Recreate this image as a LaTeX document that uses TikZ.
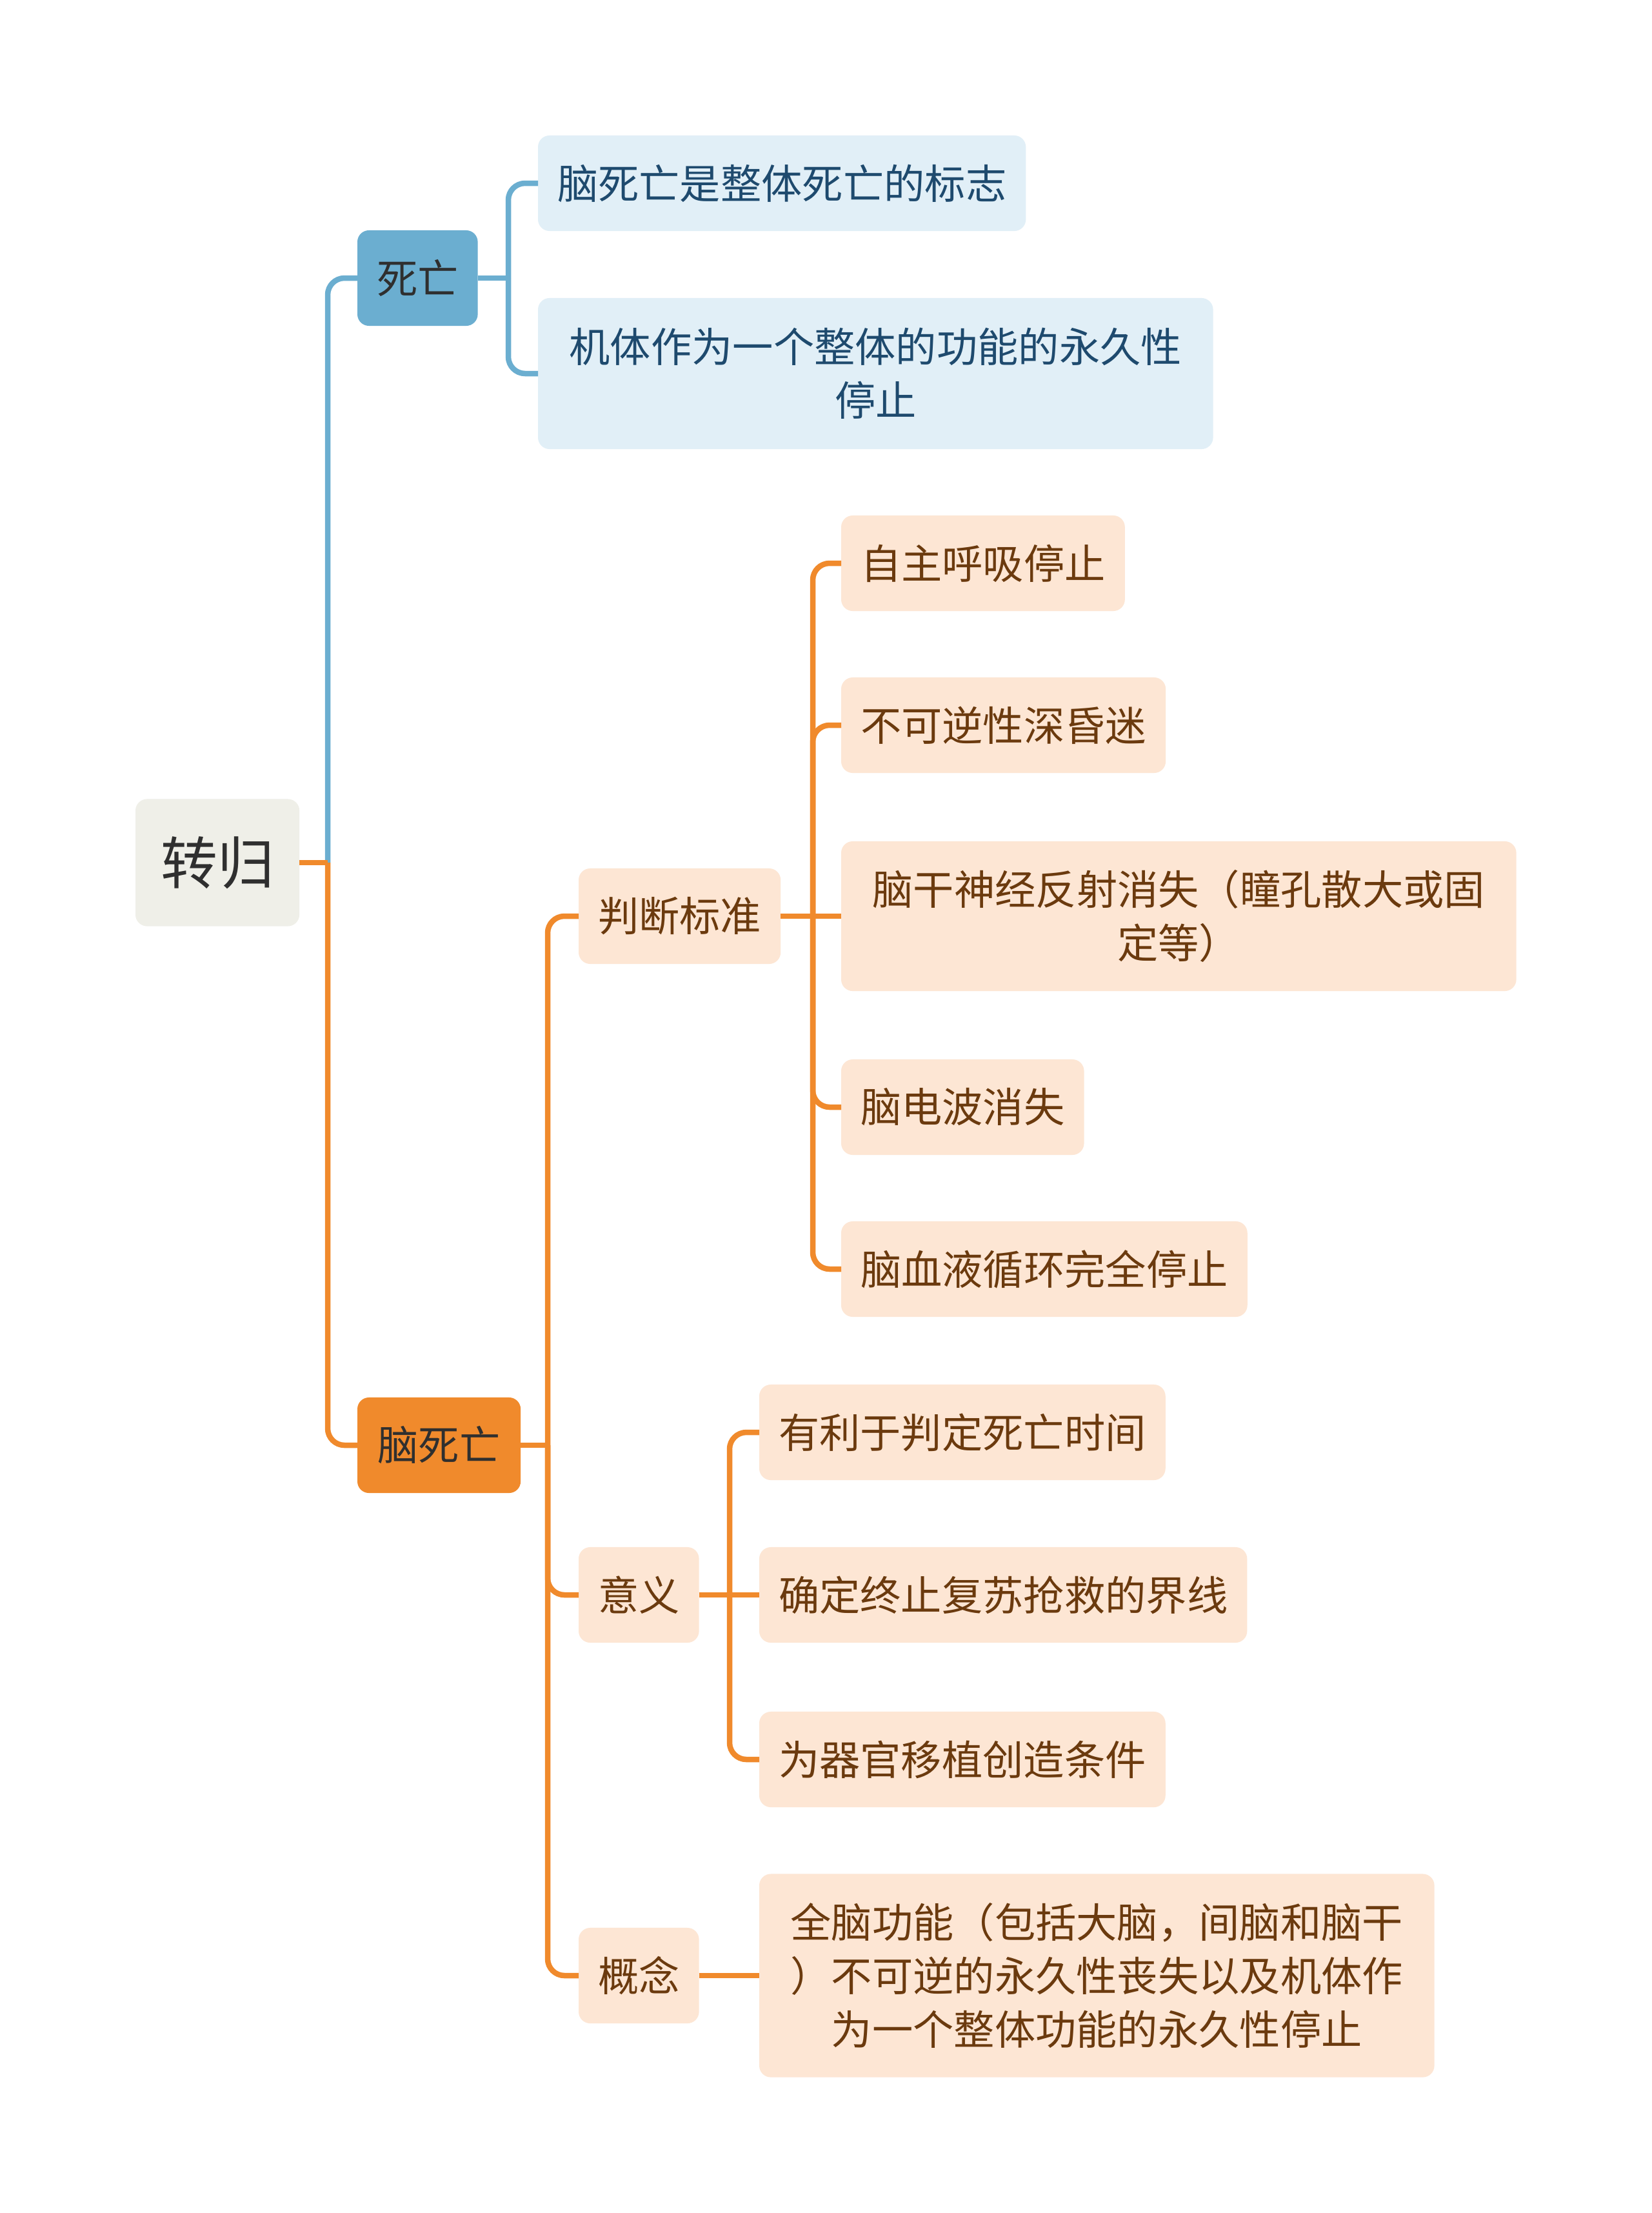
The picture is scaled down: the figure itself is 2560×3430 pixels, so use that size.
\documentclass[tikz,border=0pt]{standalone}
\usepackage{fontspec}
\setmainfont{Noto Sans CJK SC}
\usetikzlibrary{positioning}

\definecolor{rootfill}{HTML}{EFEFE8}
\definecolor{darktxt}{HTML}{2F2F2F}
\definecolor{blueline}{HTML}{6BAED0}
\definecolor{bluelight}{HTML}{E1EFF7}
\definecolor{bluetxt}{HTML}{1E4A6E}
\definecolor{orangeline}{HTML}{F08A2C}
\definecolor{orangelight}{HTML}{FDE6D4}
\definecolor{browntxt}{HTML}{6B3A0E}

\begin{document}
\begin{tikzpicture}[
  x=0.01cm, y=-0.01cm,
  mod/.style={rounded corners=0.18cm, anchor=west, align=center, inner xsep=0.3cm,
              inner ysep=0pt, outer sep=0pt, minimum height=1.48cm,
              font=\fontsize{18pt}{23.6pt}\selectfont},
  rootbox/.style={mod, fill=rootfill, text=darktxt, minimum width=2.54cm,
                  minimum height=1.97cm, font=\fontsize{25pt}{30pt}\selectfont},
  bmain/.style={mod, fill=blueline, text=darktxt},
  bsub/.style={mod, fill=bluelight, text=bluetxt},
  omain/.style={mod, fill=orangeline, text=darktxt},
  osub/.style={mod, fill=orangelight, text=browntxt},
  wide/.style={minimum width=10.46cm},
  bl/.style={draw=blueline, line width=0.085cm, rounded corners=0.26cm},
  ol/.style={bl, draw=orangeline},
]
  \useasboundingbox (0,0) rectangle (2560,3430);
  \fill[white] (0,0) rectangle (2560,3430);

  % root and its two branches
  \node[rootbox] (zg) at (210,1337) {转归};
  \node[bmain] (sw) at (554,431) {死亡};
  \node[omain, minimum width=2.53cm] (nsw) at (554,2240) {脑死亡};
  \coordinate (zgb) at (508,1337);

  % death
  \node[bsub] (sw1) at (834,284) {脑死亡是整体死亡的标志};
  \node[bsub, wide, minimum height=2.34cm] (sw2) at (834,579)
    {机体作为一个整体的功能的永久性\\停止};
  \coordinate (swb) at (788,431);

  % brain death
  \node[osub] (pd) at (897,1420) {判断标准};
  \node[osub] (yy) at (897,2472) {意义};
  \node[osub] (gn) at (897,3062) {概念};
  \coordinate (nswb) at (849,2240);

  % criteria
  \node[osub] (pd1) at (1304,873) {自主呼吸停止};
  \node[osub] (pd2) at (1304,1124) {不可逆性深昏迷};
  \node[osub, wide, minimum height=2.32cm] (pd3) at (1304,1420)
    {脑干神经反射消失（瞳孔散大或固\\定等）};
  \node[osub] (pd4) at (1304,1716) {脑电波消失};
  \node[osub] (pd5) at (1304,1967) {脑血液循环完全停止};
  \coordinate (pdb) at (1260,1420);

  % meaning
  \node[osub] (yy1) at (1177,2220) {有利于判定死亡时间};
  \node[osub] (yy2) at (1177,2472) {确定终止复苏抢救的界线};
  \node[osub] (yy3) at (1177,2727) {为器官移植创造条件};
  \coordinate (yyb) at (1131,2472);

  % concept
  \node[osub, wide, minimum height=3.15cm] (gn1) at (1177,3062)
    {全脑功能（包括大脑，间脑和脑干\\）不可逆的永久性丧失以及机体作\\为一个整体功能的永久性停止};

  % connectors
  \draw[bl] (sw.west) -| (zgb);
  \draw[ol] (nsw.west) -| (zgb);
  \draw[ol] (zg.east) -- (zgb);

  \draw[bl] (sw1.west) -| (swb);
  \draw[bl] (sw2.west) -| (swb);
  \draw[bl] (sw.east) -- (swb);

  \draw[ol] (pd.west) -| (nswb);
  \draw[ol] (yy.west) -| (nswb);
  \draw[ol] (gn.west) -| (nswb);
  \draw[ol] (nsw.east) -- (nswb);

  \draw[ol] (pd1.west) -| (pdb);
  \draw[ol] (pd2.west) -| (pdb);
  \draw[ol] (pd4.west) -| (pdb);
  \draw[ol] (pd5.west) -| (pdb);
  \draw[ol] (pd.east) -- (pd3.west);

  \draw[ol] (yy1.west) -| (yyb);
  \draw[ol] (yy3.west) -| (yyb);
  \draw[ol] (yy.east) -- (yy2.west);

  \draw[ol] (gn.east) -- (gn1.west);
\end{tikzpicture}
\end{document}
